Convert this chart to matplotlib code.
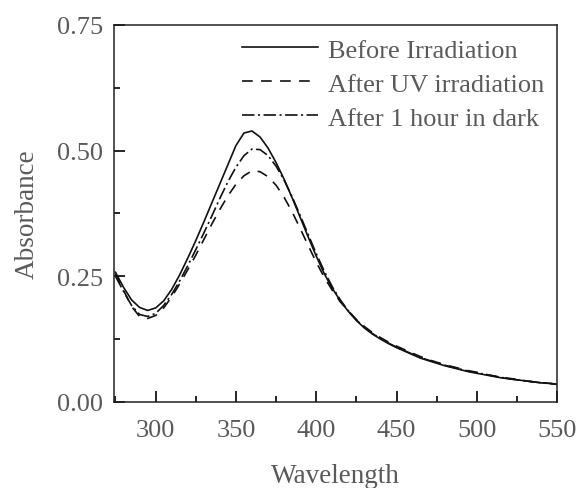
import numpy as np
import matplotlib
matplotlib.use("Agg")
import matplotlib.pyplot as plt
from matplotlib.ticker import MultipleLocator, FormatStrFormatter

plt.rcParams['font.family'] = ['Liberation Serif', 'DejaVu Serif']
plt.rcParams['lines.scale_dashes'] = False

# wavelength grid (nm)
wl = np.arange(275, 551, 5)

before = [0.258, 0.228, 0.203, 0.188, 0.182, 0.187, 0.201, 0.224, 0.253, 0.286,
          0.321, 0.358, 0.396, 0.434, 0.472, 0.510, 0.535, 0.539, 0.527, 0.505,
          0.476, 0.443, 0.406, 0.367, 0.328, 0.290, 0.255, 0.226, 0.201, 0.180,
          0.162, 0.147, 0.135, 0.125, 0.116, 0.108, 0.101, 0.094, 0.087, 0.082,
          0.077, 0.072, 0.068, 0.064, 0.060, 0.057, 0.054, 0.051, 0.048, 0.046,
          0.044, 0.042, 0.040, 0.038, 0.037, 0.035]

after_uv = [0.255, 0.222, 0.190, 0.170, 0.166, 0.172, 0.187, 0.209, 0.235, 0.263,
            0.292, 0.323, 0.354, 0.383, 0.410, 0.433, 0.450, 0.460, 0.458, 0.448,
            0.431, 0.407, 0.378, 0.345, 0.311, 0.278, 0.248, 0.222, 0.199, 0.181,
            0.164, 0.150, 0.138, 0.128, 0.119, 0.111, 0.104, 0.097, 0.090, 0.084,
            0.079, 0.074, 0.070, 0.066, 0.062, 0.059, 0.055, 0.052, 0.049, 0.047,
            0.045, 0.042, 0.040, 0.038, 0.037, 0.035]

after_dark = [0.250, 0.220, 0.192, 0.174, 0.170, 0.176, 0.192, 0.214, 0.241, 0.271,
              0.303, 0.336, 0.370, 0.405, 0.438, 0.467, 0.490, 0.503, 0.502, 0.490,
              0.469, 0.441, 0.408, 0.371, 0.333, 0.295, 0.260, 0.229, 0.203, 0.181,
              0.163, 0.148, 0.136, 0.126, 0.117, 0.109, 0.102, 0.095, 0.088, 0.083,
              0.078, 0.073, 0.069, 0.065, 0.061, 0.058, 0.055, 0.052, 0.049, 0.046,
              0.044, 0.042, 0.040, 0.038, 0.037, 0.035]

labels = ["Before Irradiation", "After UV irradiation", "After 1 hour in dark"]

txt = '#5a5a5a'
fig = plt.figure(figsize=(5.81, 4.89), dpi=100)
ax = fig.add_axes([0.196, 0.176, 0.763, 0.771])

ax.plot(wl, before, color='#111111', lw=1.2, ls='-', label=labels[0])
ax.plot(wl, after_uv, color='#111111', lw=1.2, ls=(0, (7.7, 6)), label=labels[1])
ax.plot(wl, after_dark, color='#111111', lw=1.2, ls=(0, (9, 2.5, 1.5, 2.5)), label=labels[2])

ax.set_xlim(274, 550)
ax.set_ylim(0, 0.75)
ax.xaxis.set_major_locator(MultipleLocator(50))
ax.xaxis.set_minor_locator(MultipleLocator(25))
ax.yaxis.set_major_locator(MultipleLocator(0.25))
ax.yaxis.set_minor_locator(MultipleLocator(0.125))
ax.yaxis.set_major_formatter(FormatStrFormatter('%.2f'))

ax.tick_params(which='both', direction='in', top=False, right=False,
               width=1.2, labelsize=19, labelcolor=txt, pad=8)
ax.tick_params(axis='x', which='major', pad=12)
ax.tick_params(which='major', length=8)
ax.tick_params(which='minor', length=4.5)
for s in ax.spines.values():
    s.set_linewidth(1.1)
    s.set_color('#222222')

ax.set_xlabel("Wavelength", fontsize=19.5, color=txt, labelpad=16)
ax.set_ylabel("Absorbance", fontsize=19.5, color=txt, labelpad=12)

leg = ax.legend(loc='upper right', frameon=False, fontsize=19, handlelength=2.9,
                handletextpad=0.35, labelspacing=0.4, borderaxespad=0.3,
                borderpad=0.2)
for t in leg.get_texts():
    t.set_color(txt)

fig.savefig("out.png", dpi=100)
